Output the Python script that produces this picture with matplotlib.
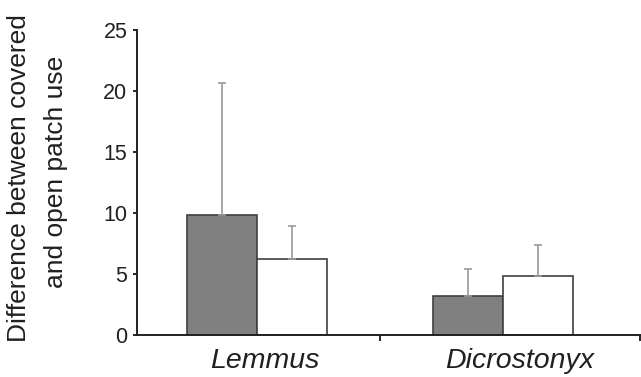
import numpy as np
import matplotlib.pyplot as plt

plt.rcParams["font.family"] = ["Liberation Sans", "DejaVu Sans"]

# Data
species = ["Lemmus", "Dicrostonyx"]
covered_mean = [9.85, 3.2]
covered_err = [10.8, 2.2]
open_mean = [6.2, 4.8]
open_err = [2.7, 2.55]

x = np.arange(len(species))
width = 0.286
label_shift = np.array([0.03, 0.07])  # names sit a bit right of the group centre

fig = plt.figure(figsize=(6.41, 3.77), dpi=100)
ax = fig.add_axes([0.2137, 0.1114, 0.7863, 0.809])

edge = "#404040"
err_kw = dict(ecolor="#999999", elinewidth=1.2, capsize=3, capthick=1.2)

ax.bar(x - width / 2, covered_mean, width, color="#808080", edgecolor=edge,
       linewidth=1.2, yerr=[np.zeros(2), covered_err], error_kw=err_kw, zorder=2)
ax.bar(x + width / 2, open_mean, width, color="white", edgecolor=edge,
       linewidth=1.2, yerr=[np.zeros(2), open_err], error_kw=err_kw, zorder=2)

ax.set_ylim(0, 25)
ax.set_xlim(-0.49, 1.563)
ax.set_yticks(range(0, 26, 5))
ax.tick_params(axis="y", labelsize=15.5, length=3, width=1.2, direction="out", pad=4,
               labelcolor="#202020")

# category names as major ticks without marks, separators as minor ticks
ax.set_xticks(x + label_shift)
ax.set_xticklabels(species, fontsize=20.5, fontstyle="italic", color="#202020")
ax.tick_params(axis="x", which="major", length=0, pad=9)
ax.set_xticks([0.5, 1.56], minor=True)
ax.tick_params(axis="x", which="minor", length=4, width=1.2, direction="out")

for side in ["top", "right"]:
    ax.spines[side].set_visible(False)
for side in ["left", "bottom"]:
    ax.spines[side].set_linewidth(1.4)
    ax.spines[side].set_color("#202020")

fig.text(0.029, 0.529, "Difference between covered", rotation=90,
         ha="center", va="center", fontsize=19, color="#202020")
fig.text(0.087, 0.543, "and open patch use", rotation=90,
         ha="center", va="center", fontsize=19, color="#202020")

fig.savefig("out.png", dpi=100)
